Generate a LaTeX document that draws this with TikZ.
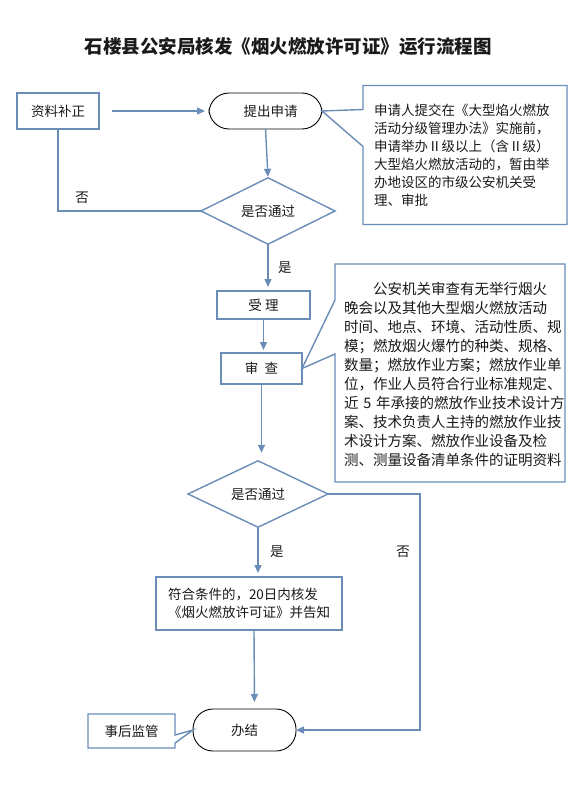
\documentclass[tikz,border=0pt]{standalone}
\usepackage{fontspec}
\setmainfont{Noto Sans CJK SC}
\usetikzlibrary{arrows.meta,positioning,calc,shapes.geometric}
\definecolor{flow}{HTML}{6A8DB8}
\definecolor{ink}{HTML}{1A1A1A}

\begin{document}
\begin{tikzpicture}[
  x=1pt,y=-1pt,
  font=\fontsize{13.5}{18}\selectfont,
  text=ink,
  >={Triangle[length=8pt,width=7pt]},
  link/.style={draw=flow,line width=1.4pt},
  flowline/.style={link,->,color=flow},
  tag/.style={text=ink},
  stepbox/.style={draw=flow,line width=1.4pt,inner sep=0pt,outer sep=0pt},
  terminal/.style={draw=black,line width=0.9pt,rounded corners=20pt,
    inner sep=0pt,outer sep=0pt},
  decision/.style={diamond,draw=flow,line width=1.4pt,inner sep=0pt,outer sep=0pt},
  notetext/.style={inner sep=0pt,outer sep=0pt,align=left},
  callout/.style={draw=flow,line width=1.4pt,line join=miter}
]
  \useasboundingbox (0,0) rectangle (575,789);

  \node[font=\bfseries\fontsize{18.5}{22}\selectfont] (title) at (288,46)
    {石楼县公安局核发《烟火燃放许可证》运行流程图};

  % main column
  \node[stepbox,minimum width=82pt,minimum height=36pt] (redo) at (58,111) {资料补正};
  \node[terminal,minimum width=113pt,minimum height=36pt] (apply) at (265.5,111) {\hspace{10pt}提出申请};
  \node[decision,minimum width=134pt,minimum height=46pt] (check1) at (268,211) {是否通过};
  \node[stepbox,minimum width=93pt,minimum height=28pt] (accept) at (263.5,305) {受\ 理};
  \node[stepbox,minimum width=81pt,minimum height=31pt] (review) at (261.5,368.5) {审\ \ 查};
  \node[decision,minimum width=140pt,minimum height=56pt] (check2) at (258,494) {是否通过};
  \node[stepbox,minimum width=186pt,minimum height=53pt,align=left] (issue) at (249,603.5)
    {符合条件的，20日内核发\\《烟火燃放许可证》并告知};
  \node[terminal,minimum width=103pt,minimum height=42pt] (done) at (244.5,730) {办结};

  % notes
  \node[notetext,minimum width=202pt,minimum height=139pt,text width=184pt] (note1) at (466,155)
    {申请人提交在《大型焰火燃放\\
     活动分级管理办法》实施前，\\
     申请举办Ⅱ级以上（含Ⅱ级）\\
     大型焰火燃放活动的，暂由举\\
     办地设区的市级公安机关受\\
     理、审批};
  \node[notetext,minimum width=230pt,minimum height=216pt,text width=216pt,
    font=\fontsize{14.5}{19}\selectfont] (note2) at (452,374)
    {\hspace{2em}公安机关审查有无举行烟火\\
     晚会以及其他大型烟火燃放活动\\
     时间、地点、环境、活动性质、规\\
     模；燃放烟火爆竹的种类、规格、\\
     数量；燃放作业方案；燃放作业单\\
     位，作业人员符合行业标准规定、\\
     近~5~年承接的燃放作业技术设计方\\
     案、技术负责人主持的燃放作业技\\
     术设计方案、燃放作业设备及检\\
     测、测量设备清单条件的证明资料};
  \node[notetext,minimum width=87pt,minimum height=34pt] (supervise) at (131.5,731) {事后监管};

  % note outlines with pointers
  \draw[callout] ($(note1.north west)+(-2,0)$) -- (note1.north east) -- (note1.south east)
    -- ($(note1.south west)+(-2,0)$) -- ($(note1.north west)+(-2,61)$) -- (apply.east)
    -- ($(note1.north west)+(-2,24)$) -- cycle;
  \draw[callout] ($(note2.north west)+(-2,-2)$) -- ($(note2.north east)+(-2,-2)$)
    -- ($(note2.south east)+(-2,0)$) -- ($(note2.south west)+(-2,0)$)
    -- ($(note2.north west)+(-2,88)$) -- (review.east)
    -- ($(note2.north west)+(-2,34)$) -- cycle;
  \draw[callout] (supervise.north west) -- (supervise.north east)
    -- ($(supervise.north east)+(0,21)$) -- (done.west)
    -- ($(supervise.north east)+(0,29)$) -- (supervise.south east)
    -- (supervise.south west) -- cycle;

  % connectors
  \draw[flowline,shorten <=13pt,shorten >=4pt] (redo.east) -- (apply.west);
  \draw[flowline,shorten >=1pt] (apply.south) -- (check1.north);
  \draw[link] (check1.west) -| (redo.south)
    node[tag,pos=0.416,above=3pt] {否};
  \draw[flowline,shorten >=4pt] (check1.south) -- (check1.south |- accept.north)
    node[tag,midway,right=6pt] {是};
  \draw[flowline,shorten >=3pt] (accept.south) -- (accept.south |- review.north);
  \draw[flowline,shorten >=8pt] (review.south) -- (review.south |- check2.north);
  \draw[flowline,shorten >=4pt] (check2.south) -- (check2.south |- issue.north)
    node[tag,midway,right=8pt] {是};
  \draw[flowline,shorten >=7pt] ($(issue.south)+(5,0)$) -- ($(done.north)+(10,0)$);
  \draw[flowline] (check2.east) -- ++(92,0) |- (done.east)
    node[tag,pos=0.123,left=6pt] {否};
\end{tikzpicture}
\end{document}
